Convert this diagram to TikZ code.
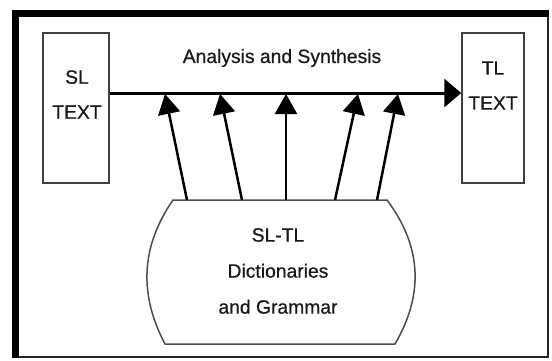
\documentclass[tikz,border=0pt]{standalone}
\usepackage{fontspec}
\newfontfamily\hv[FakeBold=0.6]{Liberation Sans}
\usetikzlibrary{arrows.meta}
\begin{document}
\begin{tikzpicture}[x=1pt,y=-1pt,
  txt/.style={font=\hv\fontsize{19.3}{35}\selectfont, text=black!90, align=center, inner sep=0pt},
  boxstyle/.style={draw=black!75, line width=1.5pt, fill=white, inner sep=0pt},
  mainarrow/.style={draw=black, line width=3pt, -{Triangle[length=17pt,width=28pt]}},
  feed/.style={draw=black, line width=2.5pt, -{Triangle[length=20pt,width=22pt]}}]
\useasboundingbox (0,0) rectangle (552,360);
% outer frame
\fill[white] (0,0) rectangle (552,360);
\draw[black!85, line width=2.2pt] (13,11) rectangle (547.8,356.6);
\fill[black] (12,10) rectangle (19,358);
\fill[black] (12,10) rectangle (549,17);
% boxes
\node[boxstyle, minimum width=66pt, minimum height=150pt] (sl) at (76,108) {};
\node[boxstyle, minimum width=62pt, minimum height=150pt] (tl) at (493,108) {};
\node[txt] (sllab) at (77,94.5) {SL\\TEXT};
\node[txt] (tllab) at (493,85.5) {TL\\TEXT};
\node[txt] (as) at (282,58) {Analysis and Synthesis};
% main arrow
\coordinate (y) at (0,93);
\draw[mainarrow] (sl.east |- y) -- (tl.west |- y);
% knowledge base shape
\draw[black!70, line width=1.5pt, fill=white]
  (173,200) -- (387,200) .. controls (423,248) and (423,296) .. (395,344)
  -- (165,344) .. controls (139.7,296) and (139.7,248) .. cycle;
\node[txt, font=\hv\fontsize{19.3}{36}\selectfont] (kb) at (278,271) {SL-TL\\Dictionaries\\and Grammar};
% feed arrows
\coordinate (b1) at (187,200); \coordinate (t1) at (165,94);
\coordinate (b2) at (242,200); \coordinate (t2) at (220,94);
\coordinate (b3) at (286,200); \coordinate (t3) at (286,94);
\coordinate (b4) at (335,200); \coordinate (t4) at (358,94);
\coordinate (b5) at (377,200); \coordinate (t5) at (398,94);
\foreach \i in {1,...,5} \draw[feed] (b\i) -- (t\i);
\end{tikzpicture}
\end{document}
